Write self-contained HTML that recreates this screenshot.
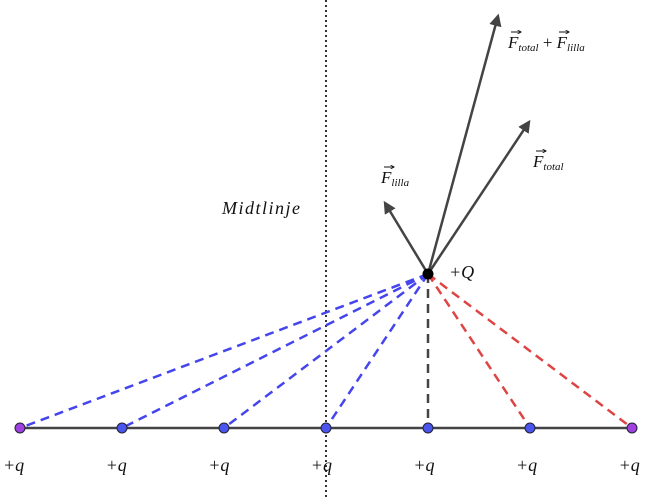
<!DOCTYPE html>
<html><head><meta charset="utf-8"><style>
body{margin:0;background:#fff;}
svg{display:block;}
text{font-family:"Liberation Serif",serif;font-style:italic;fill:#111;}
</style></head><body>
<svg id="c" width="657" height="499" viewBox="0 0 657 499">
<defs>
<marker id="ah" viewBox="0 0 10 10" refX="8" refY="5" markerWidth="5" markerHeight="5" orient="auto"><path d="M0,0 L10,5 L0,10 z" fill="#444"/></marker>
<marker id="vh" viewBox="0 0 10 10" refX="9" refY="5" markerWidth="4" markerHeight="4" orient="auto"><path d="M0,0 L10,5 L0,10" fill="none" stroke="#111" stroke-width="2"/></marker>
</defs>
<line x1="326" y1="0" x2="326" y2="499" stroke="#333" stroke-width="2" stroke-dasharray="2,3"/>
<text x="222" y="214" font-size="18" letter-spacing="1.5">Midtlinje</text>
<line x1="20" y1="428" x2="632" y2="428" stroke="#444" stroke-width="2.5"/>
<g id="lines"></g>
<g id="arrows"></g>
<g id="pts"></g>
<g id="labels"></g>
<circle cx="428" cy="274" r="5.5" fill="#000"/>
<text x="449" y="278" font-size="18">+Q</text>
<g>
<text x="381" y="183" font-size="17">F<tspan font-size="11" dy="3">lilla</tspan></text>
<line x1="384" y1="167" x2="394" y2="167" stroke="#111" stroke-width="1" marker-end="url(#vh)"/>
</g>
<g>
<text x="533" y="167" font-size="17">F<tspan font-size="11" dy="3">total</tspan></text>
<line x1="536" y1="151" x2="546" y2="151" stroke="#111" stroke-width="1" marker-end="url(#vh)"/>
</g>
<g>
<text x="508" y="48" font-size="17">F<tspan font-size="11" dy="3">total</tspan><tspan dy="-3" font-style="normal"> + </tspan>F<tspan font-size="11" dy="3">lilla</tspan></text>
<line x1="511" y1="32" x2="521" y2="32" stroke="#111" stroke-width="1" marker-end="url(#vh)"/>
<line x1="559" y1="32" x2="569" y2="32" stroke="#111" stroke-width="1" marker-end="url(#vh)"/>
</g>
</svg>
<script>
const chargeX=[20,122,224,326,428,530,632];
const chargeKind=["purple","blue","blue","blue","blue","blue","purple"];
const lineColor=["blue","blue","blue","blue","gray","red","red"];
const Q=[428,274];
const arrowTips=[[385,203],[529,122],[498,16]];
const arrowNames=["f-lilla-arrow","f-total-arrow","f-sum-arrow"];
const NS="http://www.w3.org/2000/svg";
const baseY=428;
const colors={blue:"#4545ee",red:"#dd4444",gray:"#444",purple:"#a040e0"};
const L=document.getElementById('lines'),A=document.getElementById('arrows'),P=document.getElementById('pts'),T=document.getElementById('labels');
chargeX.forEach((x,i)=>{
 const l=document.createElementNS(NS,'line');
 l.setAttribute('x1',Q[0]);l.setAttribute('y1',Q[1]);l.setAttribute('x2',x);l.setAttribute('y2',baseY);
 l.setAttribute('stroke',colors[lineColor[i]]);l.setAttribute('stroke-width','2.5');l.setAttribute('stroke-dasharray','9,6');
 
 
 L.appendChild(l);
 const c=document.createElementNS(NS,'circle');
 c.setAttribute('cx',x);c.setAttribute('cy',baseY);c.setAttribute('r','5');
 c.setAttribute('fill',chargeKind[i]=="purple"?"#a040e0":"#4a55ee");c.setAttribute('stroke','#223');c.setAttribute('stroke-width','1');
 
 
 P.appendChild(c);
 const t=document.createElementNS(NS,'text');
 t.setAttribute('x',x-17+i*0.6);t.setAttribute('y',baseY+43);t.setAttribute('font-size','18');
 t.textContent='+q';
 
 
 T.appendChild(t);
});
arrowTips.forEach((p,i)=>{
 const l=document.createElementNS(NS,'line');
 l.setAttribute('x1',Q[0]);l.setAttribute('y1',Q[1]);l.setAttribute('x2',p[0]);l.setAttribute('y2',p[1]);
 l.setAttribute('stroke','#444');l.setAttribute('stroke-width','2.5');l.setAttribute('marker-end','url(#ah)');
 
 
 A.appendChild(l);
});
</script>
</body></html>
